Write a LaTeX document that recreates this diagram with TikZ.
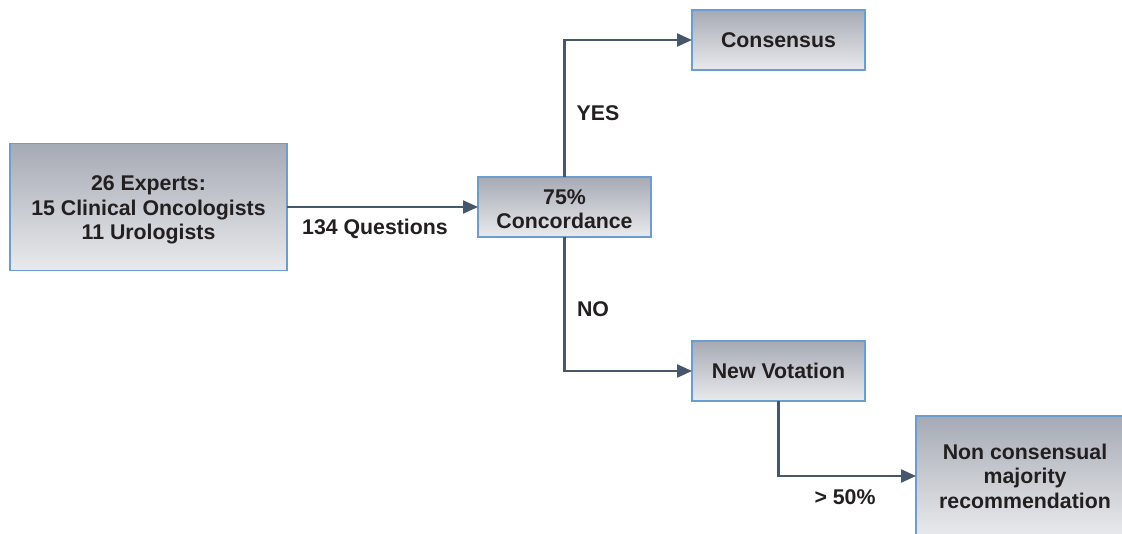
\documentclass[tikz,border=0pt]{standalone}
\usepackage{fontspec}
\setmainfont{Liberation Sans}
\usetikzlibrary{arrows.meta}
\definecolor{boxtop}{HTML}{A6AAB4}
\definecolor{boxbot}{HTML}{E9EAED}
\definecolor{boxedge}{HTML}{6C9DCF}
\definecolor{arrowc}{HTML}{46566D}
\definecolor{txt}{HTML}{231F20}
\tikzset{
  flowbox/.style={draw=boxedge, line width=1.4pt, top color=boxtop, bottom color=boxbot,
    inner sep=0pt, outer sep=0pt},
  boxtext/.style={text=txt, font=\fontsize{21.3}{24.5}\selectfont\bfseries, align=center,
    inner sep=0pt},
  flowarrow/.style={draw=arrowc, line width=2.2pt, -{Triangle[length=15pt,width=13pt]}},
  lbl/.style={text=txt, font=\fontsize{21.3}{24.5}\selectfont\bfseries, inner sep=0pt}
}
\begin{document}
\begin{tikzpicture}[x=1pt,y=-1pt]
\useasboundingbox (0,0) rectangle (1122,533);
\clip (0,0) rectangle (1122,533);
\node[flowbox, minimum width=277pt, minimum height=127pt] (A) at (148.5,207) {};
\node[flowbox, minimum width=173pt, minimum height=60pt] (B) at (564.5,207) {};
\node[flowbox, minimum width=173pt, minimum height=60pt] (C) at (778.5,40) {};
\node[flowbox, minimum width=173pt, minimum height=60pt] (D) at (778.5,371) {};
\node[flowbox, minimum width=218pt, minimum height=120pt] (E) at (1025,476) {};
\node[boxtext] (At) at ([yshift=-3pt]A.center) {26 Experts:\\15 Clinical Oncologists\\11 Urologists};
\node[boxtext] (Bt) at ([yshift=-2pt]B.center) {75\%\\Concordance};
\node[boxtext] (Ct) at (C.center) {Consensus};
\node[boxtext] (Dt) at (D.center) {New Votation};
\node[boxtext] (Et) at (E.center) {Non consensual\\majority\\recommendation};
\draw[flowarrow] (A.east) -- (B.west);
\draw[flowarrow] (B.north) |- (C.west);
\draw[flowarrow] (B.south) |- (D.west);
\draw[flowarrow] (D.south) |- (E.west);
\node[lbl] (q) at (375,228.5) {134 Questions};
\node[lbl] (yes) at (598,113) {YES};
\node[lbl] (no) at (593,309) {NO};
\node[lbl] (p) at (845,497) {> 50\%};
\end{tikzpicture}
\end{document}
